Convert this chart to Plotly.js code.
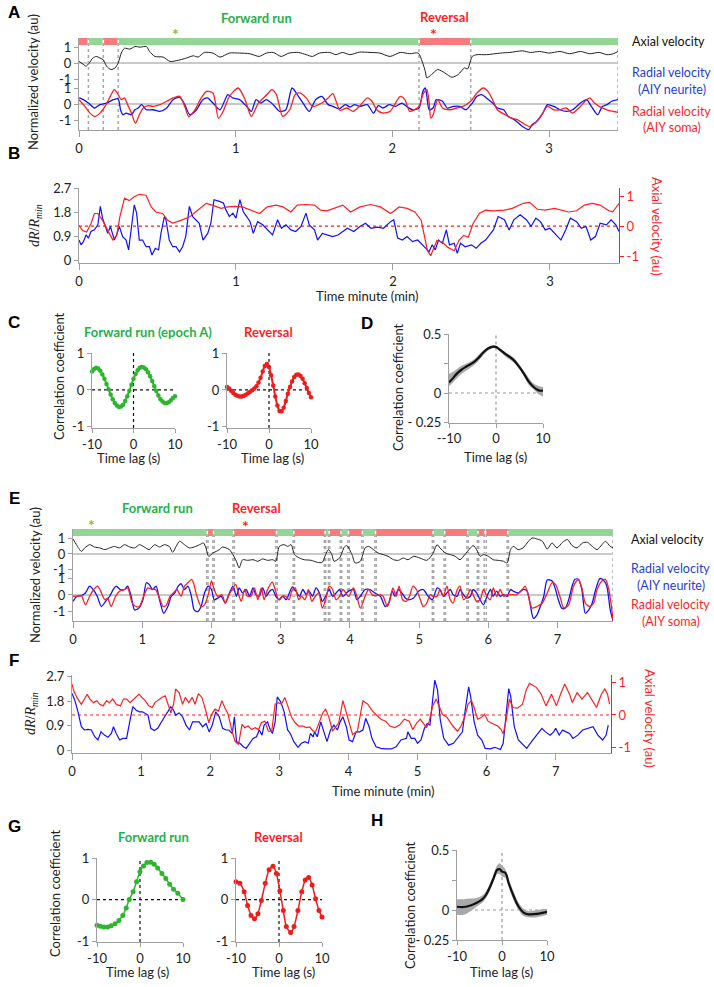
<!DOCTYPE html>
<html>
<head>
<meta charset="utf-8">
<script src="https://cdn.plot.ly/plotly-3.0.1.min.js"></script>
<style>
  body { margin: 0; background: #fff; }
  #chart { width: 714px; height: 987px; }
</style>
</head>
<body>
<div id="chart"></div>
<script>
// ---------- data ----------
// time in minutes, values in au; [time, value]

// Panel A
const aEpochs = [[0, 0.055, 'R'], [0.065, 0.15, 'F'], [0.16, 0.245, 'R'], [0.255, 2.165, 'F'], [2.175, 2.495, 'R'], [2.505, 3.44, 'F']];
const aAxial = [[0,0.1],[0.03,-0.1],[0.045,-0.2],[0.066,0.0],[0.087,0.3],[0.11,0.41],[0.134,0.31],[0.155,0.2],[0.176,-0.2],[0.204,-0.41],[0.23,-0.31],[0.25,0],[0.27,0.62],[0.29,0.92],[0.325,0.87],[0.357,1.03],[0.39,0.99],[0.43,1.03],[0.45,0.72],[0.484,0.41],[0.537,0.37],[0.58,0.1],[0.62,0.14],[0.686,0.31],[0.73,0.45],[0.76,0.37],[0.8,0.66],[0.855,0.62],[0.9,0.37],[0.96,0.62],[1.025,0.62],[1.09,0.58],[1.15,0.41],[1.195,0.62],[1.24,0.66],[1.29,0.41],[1.34,0.62],[1.4,0.66],[1.45,0.52],[1.49,0.41],[1.535,0.62],[1.6,0.66],[1.64,0.52],[1.68,0.66],[1.73,0.52],[1.79,0.68],[1.857,0.66],[1.92,0.62],[1.985,0.41],[2.05,0.66],[2.11,0.58],[2.165,0.62],[2.19,0.1],[2.21,-0.52],[2.22,-0.93],[2.25,-0.72],[2.29,-0.41],[2.335,-0.62],[2.38,-0.89],[2.42,-0.72],[2.46,-0.31],[2.48,-0.37],[2.51,0.41],[2.54,0.52],[2.6,0.52],[2.69,0.62],[2.75,0.66],[2.83,0.76],[2.88,0.66],[2.94,0.72],[3.0,0.62],[3.07,0.72],[3.13,0.58],[3.2,0.72],[3.26,0.58],[3.32,0.66],[3.37,0.52],[3.41,0.58],[3.44,0.72]];
const aNeurite = [[0,0.38],[0.028,0.27],[0.06,0.06],[0.1,-0.25],[0.134,-0.04],[0.176,0.06],[0.22,0.27],[0.25,0.32],[0.265,-0.36],[0.28,-0.67],[0.3,-0.57],[0.335,-0.67],[0.357,-0.36],[0.378,-0.25],[0.4,-0.04],[0.43,-0.36],[0.473,-0.36],[0.516,-0.46],[0.56,-0.25],[0.6,0.27],[0.643,0.42],[0.675,-0.04],[0.707,-0.67],[0.75,-0.36],[0.79,0.27],[0.82,0.38],[0.855,0.06],[0.9,-0.36],[0.95,0.59],[0.98,0.38],[1.025,0.27],[1.07,-0.15],[1.1,-0.46],[1.13,0.27],[1.16,0.06],[1.195,0.27],[1.24,-0.04],[1.28,-0.46],[1.32,-0.36],[1.36,1.0],[1.4,0.48],[1.43,0.06],[1.47,-0.46],[1.51,0.27],[1.55,0.48],[1.59,-0.04],[1.62,-0.15],[1.66,-0.3],[1.7,-0.04],[1.73,-0.19],[1.76,-0.04],[1.79,-0.15],[1.84,-0.04],[1.88,-0.57],[1.91,-0.1],[1.94,-0.25],[1.98,-0.04],[2.02,-0.15],[2.06,0.06],[2.09,-0.15],[2.13,-0.36],[2.17,-0.25],[2.195,0.79],[2.21,1.0],[2.22,0.48],[2.235,-0.36],[2.26,-0.25],[2.28,0.27],[2.32,0.17],[2.35,-0.25],[2.39,-0.15],[2.43,-0.15],[2.47,-0.36],[2.51,0.06],[2.54,0.48],[2.57,0.59],[2.6,0.38],[2.64,0.06],[2.67,-0.25],[2.71,-0.36],[2.74,-0.78],[2.78,-0.99],[2.83,-1.41],[2.87,-1.6],[2.89,-1.31],[2.92,-1.09],[2.96,-0.57],[2.99,-0.04],[3.03,-0.15],[3.07,-0.36],[3.11,-0.46],[3.15,-0.36],[3.2,0.06],[3.24,0.27],[3.27,-0.15],[3.31,-0.67],[3.34,-0.15],[3.37,-0.04],[3.4,0.17],[3.44,0.27]];
const aSoma = [[0,0.27],[0.038,-0.15],[0.07,-0.57],[0.1,-0.78],[0.134,-0.57],[0.166,-0.15],[0.2,0.48],[0.225,0.9],[0.25,0.59],[0.27,0.27],[0.29,0.38],[0.315,-0.15],[0.335,-0.57],[0.36,-1.2],[0.385,-0.67],[0.41,-0.25],[0.44,-0.1],[0.473,-0.15],[0.516,-0.04],[0.56,0.17],[0.6,0.38],[0.643,0.48],[0.675,-0.15],[0.7,-0.78],[0.74,-0.36],[0.78,0.38],[0.815,0.79],[0.855,0.69],[0.89,-0.9],[0.92,-0.46],[0.96,0.48],[1.016,1.0],[1.06,0.27],[1.1,-0.78],[1.145,0.06],[1.2,0.59],[1.23,0.9],[1.26,0.59],[1.3,-0.78],[1.345,-0.36],[1.38,0.59],[1.41,0.69],[1.45,0.38],[1.49,-0.15],[1.55,0.06],[1.59,0.38],[1.62,0.65],[1.666,-0.4],[1.71,-0.25],[1.75,-0.46],[1.79,-0.15],[1.84,0.38],[1.87,0.17],[1.9,-0.36],[1.94,-0.57],[1.985,-0.46],[2.02,0.06],[2.05,0.48],[2.08,0.27],[2.11,-0.46],[2.14,-0.36],[2.17,-0.15],[2.195,0.59],[2.22,0.9],[2.235,0.06],[2.245,-0.88],[2.26,-0.67],[2.29,0.27],[2.32,-0.25],[2.37,-0.36],[2.41,-0.25],[2.45,-0.15],[2.5,0.17],[2.54,0.69],[2.58,1.0],[2.61,0.79],[2.64,0.27],[2.67,-0.36],[2.72,-0.67],[2.76,-0.88],[2.8,-0.99],[2.85,-1.3],[2.88,-1.41],[2.91,-1.2],[2.94,-0.88],[2.99,-0.15],[3.03,-0.36],[3.07,-0.36],[3.11,-0.25],[3.15,-0.57],[3.19,-0.25],[3.23,0.17],[3.26,0.38],[3.29,0.06],[3.32,-0.15],[3.37,-0.36],[3.41,-0.46],[3.44,-0.52]];

// Panel B
const bRatio = [[0,0.75],[0.013,0.57],[0.028,0.69],[0.045,0.94],[0.06,0.82],[0.076,1.07],[0.098,1.13],[0.12,1.32],[0.136,2.01],[0.15,1.57],[0.168,1.26],[0.183,1.0],[0.2,1.26],[0.225,0.75],[0.24,0.94],[0.257,1.26],[0.278,0.88],[0.3,0.75],[0.316,0.38],[0.338,1.38],[0.352,2.07],[0.367,1.76],[0.384,0.75],[0.405,0.75],[0.427,0.5],[0.448,0.5],[0.465,0.19],[0.486,0.44],[0.507,0.38],[0.522,1.0],[0.544,1.63],[0.554,1.51],[0.575,0.75],[0.597,0.5],[0.618,0.5],[0.64,0.31],[0.66,0.5],[0.68,0.88],[0.703,2.01],[0.724,1.63],[0.745,1.51],[0.766,1.38],[0.79,0.75],[0.82,1.0],[0.84,1.38],[0.86,2.26],[0.894,2.2],[0.92,2.14],[0.936,1.88],[0.958,1.63],[0.98,1.76],[1.0,1.57],[1.025,2.26],[1.046,1.82],[1.068,1.63],[1.09,1.44],[1.11,1.0],[1.138,1.44],[1.17,1.32],[1.2,1.13],[1.233,0.94],[1.265,1.51],[1.29,1.19],[1.318,1.32],[1.35,1.13],[1.38,1.07],[1.414,1.26],[1.446,1.76],[1.467,1.32],[1.5,1.13],[1.52,0.75],[1.55,1.0],[1.584,0.94],[1.616,0.88],[1.65,0.94],[1.71,1.19],[1.75,1.07],[1.79,1.26],[1.825,1.38],[1.86,1.19],[1.9,1.23],[1.94,1.19],[1.985,1.44],[2.005,1.51],[2.03,0.82],[2.06,0.75],[2.09,0.88],[2.125,0.69],[2.157,0.75],[2.19,0.57],[2.21,0.44],[2.23,0.31],[2.25,0.57],[2.27,0.38],[2.29,0.75],[2.315,0.63],[2.34,1.13],[2.36,0.57],[2.39,0.63],[2.41,0.25],[2.43,0.63],[2.46,0.5],[2.5,0.57],[2.53,0.44],[2.56,0.63],[2.59,0.75],[2.62,1.0],[2.64,1.13],[2.67,1.63],[2.71,1.51],[2.74,1.13],[2.77,1.51],[2.81,1.7],[2.85,1.51],[2.88,1.26],[2.91,1.57],[2.94,1.44],[2.97,1.13],[3.0,1.19],[3.04,0.94],[3.07,0.75],[3.1,1.13],[3.13,1.57],[3.17,1.44],[3.2,1.19],[3.23,1.26],[3.26,0.75],[3.29,0.88],[3.32,1.38],[3.36,1.32],[3.39,1.51],[3.42,1.32],[3.44,1.07]];
const bAxial = [[0,0.02],[0.023,-0.15],[0.049,-0.2],[0.076,0.08],[0.098,0.42],[0.12,0.42],[0.15,0.19],[0.183,-0.15],[0.215,-0.46],[0.24,-0.31],[0.26,0.3],[0.29,0.93],[0.32,0.85],[0.352,0.98],[0.384,1.06],[0.427,1.03],[0.46,0.64],[0.49,0.47],[0.533,0.42],[0.565,0.19],[0.597,0.1],[0.65,0.19],[0.703,0.3],[0.756,0.53],[0.81,0.76],[0.85,0.7],[0.905,0.59],[0.947,0.64],[0.99,0.66],[1.04,0.64],[1.096,0.53],[1.15,0.42],[1.2,0.64],[1.255,0.7],[1.3,0.64],[1.35,0.47],[1.39,0.7],[1.446,0.72],[1.5,0.7],[1.54,0.53],[1.58,0.51],[1.64,0.64],[1.68,0.7],[1.73,0.47],[1.79,0.64],[1.857,0.72],[1.92,0.64],[1.985,0.42],[2.04,0.64],[2.09,0.59],[2.14,0.47],[2.18,0.19],[2.2,-0.37],[2.22,-0.82],[2.24,-0.99],[2.26,-0.71],[2.28,-0.48],[2.315,-0.54],[2.35,-0.71],[2.39,-0.82],[2.42,-0.48],[2.45,-0.31],[2.48,-0.37],[2.51,0.08],[2.55,0.42],[2.59,0.53],[2.64,0.51],[2.71,0.53],[2.76,0.59],[2.83,0.76],[2.87,0.79],[2.92,0.56],[2.97,0.53],[3.03,0.59],[3.08,0.53],[3.12,0.47],[3.17,0.51],[3.22,0.7],[3.27,0.76],[3.32,0.7],[3.37,0.53],[3.4,0.47],[3.44,0.76]];

// Panel C (lag in s)
const cLag = [-10,-9.5,-9,-8.5,-8,-7.5,-7,-6.5,-6,-5.5,-5,-4.5,-4,-3.5,-3,-2.5,-2,-1.5,-1,-0.5,0,0.5,1,1.5,2,2.5,3,3.5,4,4.5,5,5.5,6,6.5,7,7.5,8,8.5,9,9.5,10];
const cForward = [0.50,0.57,0.60,0.58,0.52,0.42,0.30,0.16,0.02,-0.12,-0.25,-0.35,-0.42,-0.46,-0.45,-0.40,-0.30,-0.17,-0.02,0.14,0.30,0.43,0.53,0.60,0.62,0.61,0.56,0.48,0.37,0.24,0.10,-0.03,-0.15,-0.25,-0.31,-0.35,-0.35,-0.33,-0.28,-0.22,-0.17];
const cReversal = [0.08,0.04,-0.02,-0.08,-0.13,-0.16,-0.18,-0.18,-0.16,-0.13,-0.09,-0.05,-0.01,0.04,0.10,0.20,0.33,0.50,0.65,0.70,0.62,0.40,0.12,-0.18,-0.42,-0.57,-0.58,-0.48,-0.30,-0.10,0.08,0.23,0.35,0.41,0.42,0.38,0.30,0.18,0.05,-0.08,-0.20];

// Panel D (mean and band)
const dLag = [-10,-9.14,-8.43,-7.36,-6.29,-4.86,-3.79,-2.71,-1.64,-0.57,0.14,0.86,2.29,3.71,4.79,5.86,6.93,8.0,9.07,10];
const dMean = [0.09,0.126,0.16,0.197,0.225,0.258,0.295,0.343,0.379,0.393,0.388,0.365,0.323,0.281,0.23,0.169,0.098,0.051,0.022,0.02];
const dUpper = [0.16,0.18,0.2,0.23,0.25,0.28,0.32,0.36,0.39,0.405,0.4,0.38,0.34,0.3,0.25,0.19,0.13,0.08,0.06,0.05];
const dLower = [0.06,0.09,0.12,0.16,0.19,0.23,0.27,0.32,0.36,0.38,0.375,0.35,0.3,0.26,0.21,0.15,0.07,0.03,-0.01,-0.03];

// Panel E
const eEpochs = [[0,1.93,'F'],[1.95,2.02,'R'],[2.04,2.31,'F'],[2.33,2.93,'R'],[2.95,3.18,'F'],[3.2,3.63,'R'],[3.65,3.69,'F'],[3.71,3.86,'R'],[3.88,3.97,'F'],[3.99,4.17,'R'],[4.19,4.36,'F'],[4.38,5.19,'R'],[5.21,5.36,'F'],[5.38,5.69,'R'],[5.71,5.84,'F'],[5.86,5.94,'R'],[5.97,6.27,'R'],[6.29,7.8,'F']];
const eAxial = [[0,0.97],[0.05,0.6],[0.12,0.17],[0.17,0.39],[0.24,0.6],[0.31,0.45],[0.385,0.39],[0.46,0.28],[0.53,0.39],[0.6,0.49],[0.67,0.39],[0.745,0.6],[0.82,0.45],[0.89,0.39],[0.96,0.6],[1.03,0.45],[1.1,0.28],[1.18,0.6],[1.25,0.45],[1.32,0.6],[1.39,0.49],[1.44,0.11],[1.49,0.49],[1.54,0.82],[1.61,0.6],[1.68,0.39],[1.75,0.45],[1.83,0.6],[1.885,0.71],[1.92,0.39],[1.96,-0.15],[2.02,0.06],[2.07,0.17],[2.115,0.28],[2.16,0.45],[2.21,0.39],[2.26,0.28],[2.31,-0.04],[2.36,-0.47],[2.4,-0.9],[2.45,-0.37],[2.52,-0.41],[2.6,-0.37],[2.67,-0.47],[2.74,-0.32],[2.81,-0.41],[2.885,-0.37],[2.93,-0.47],[2.98,0.49],[3.05,0.6],[3.1,0.49],[3.15,0.6],[3.2,-0.04],[3.27,-0.26],[3.34,-0.37],[3.44,-0.41],[3.53,-0.54],[3.6,-0.54],[3.65,-0.04],[3.69,0.28],[3.74,-0.04],[3.77,-0.47],[3.85,-0.26],[3.92,0.45],[3.955,0.54],[4.03,-0.04],[4.075,-0.58],[4.15,-0.47],[4.22,0.39],[4.27,0.49],[4.34,0.28],[4.41,0.06],[4.48,-0.04],[4.55,-0.15],[4.63,-0.37],[4.7,-0.41],[4.77,-0.26],[4.84,-0.37],[4.92,-0.15],[5.01,-0.26],[5.11,-0.41],[5.19,-0.04],[5.26,0.6],[5.3,0.39],[5.38,0.06],[5.45,-0.04],[5.52,-0.15],[5.59,-0.37],[5.66,-0.04],[5.74,0.39],[5.78,0.54],[5.83,0.28],[5.88,-0.15],[5.93,-0.04],[6.0,-0.15],[6.07,-0.37],[6.14,-0.41],[6.22,-0.47],[6.27,-0.58],[6.32,0.28],[6.36,0.49],[6.43,0.28],[6.5,0.39],[6.56,0.71],[6.63,1.03],[6.7,0.97],[6.78,0.82],[6.85,0.32],[6.92,0.71],[6.99,0.39],[7.07,0.75],[7.14,0.93],[7.21,0.54],[7.28,0.39],[7.36,0.71],[7.43,0.75],[7.5,0.49],[7.57,0.28],[7.64,0.6],[7.69,0.82],[7.76,0.49],[7.8,0.39]];
const eNeurite = [[0,-0.39],[0.058,-0.08],[0.12,-0.04],[0.18,0.12],[0.24,0.54],[0.29,0.33],[0.35,-0.08],[0.41,-0.7],[0.47,-0.39],[0.53,-0.08],[0.58,0.33],[0.625,0.54],[0.68,0.33],[0.745,0.33],[0.79,0.54],[0.84,-0.08],[0.89,-0.91],[0.95,-0.8],[1.01,-0.29],[1.06,0.74],[1.1,0.64],[1.15,0.33],[1.2,0.54],[1.25,-0.29],[1.31,-1.11],[1.37,-0.7],[1.42,-0.08],[1.47,0.12],[1.52,0.54],[1.56,0.68],[1.61,0.33],[1.66,0.54],[1.71,-0.08],[1.75,-0.91],[1.8,-1.01],[1.85,-0.7],[1.9,0.12],[1.95,0.54],[2.0,0.33],[2.04,-0.29],[2.09,-0.19],[2.14,-0.08],[2.2,-0.49],[2.26,0.12],[2.31,0.54],[2.36,-0.08],[2.4,0.43],[2.45,0.12],[2.5,0.33],[2.55,-0.08],[2.6,0.43],[2.64,0.02],[2.69,-0.08],[2.74,0.43],[2.79,-0.08],[2.84,0.23],[2.885,0.33],[2.93,-0.08],[2.98,-0.29],[3.03,-0.08],[3.08,-0.29],[3.125,0.12],[3.17,0.49],[3.22,0.23],[3.27,-0.08],[3.32,0.33],[3.37,0.02],[3.41,0.23],[3.46,-0.08],[3.51,0.43],[3.56,0.12],[3.6,-0.39],[3.65,-0.08],[3.7,0.33],[3.75,-0.08],[3.8,0.12],[3.85,0.33],[3.9,-0.08],[3.98,0.23],[4.05,0.33],[4.1,-0.29],[4.15,-0.08],[4.22,0.33],[4.29,0.33],[4.36,0.12],[4.44,-0.08],[4.51,-0.7],[4.56,-0.49],[4.61,0.23],[4.65,-0.08],[4.7,0.33],[4.75,0.12],[4.8,-0.19],[4.84,-0.29],[4.92,-0.19],[4.99,0.23],[5.06,0.33],[5.13,-0.08],[5.19,-0.29],[5.26,0.43],[5.3,0.33],[5.35,-0.08],[5.4,0.12],[5.45,0.33],[5.49,0.02],[5.55,-0.08],[5.59,0.33],[5.64,0.02],[5.69,-0.19],[5.74,-0.08],[5.78,0.33],[5.83,0.12],[5.88,-0.29],[5.93,-0.6],[5.98,-0.08],[6.03,0.33],[6.07,-0.08],[6.12,0.23],[6.17,-0.08],[6.22,0.02],[6.27,-0.08],[6.32,0.33],[6.36,0.23],[6.43,0.12],[6.5,0.33],[6.56,0.23],[6.6,-0.49],[6.65,-1.42],[6.7,-1.22],[6.75,-0.7],[6.8,-0.08],[6.85,0.91],[6.92,0.85],[6.97,0.33],[7.01,-0.29],[7.06,-0.8],[7.11,-0.8],[7.16,-0.29],[7.21,0.54],[7.25,0.95],[7.3,0.95],[7.35,0.33],[7.4,-1.11],[7.45,-0.91],[7.5,-0.49],[7.55,0.33],[7.61,0.99],[7.66,0.91],[7.71,0.54],[7.76,-0.91],[7.8,-1.57]];
const eSoma = [[0,-0.08],[0.058,-0.08],[0.12,-0.04],[0.18,-0.6],[0.24,-0.08],[0.3,0.33],[0.35,0.54],[0.39,0.33],[0.46,-0.29],[0.5,-0.19],[0.55,-0.7],[0.615,-0.08],[0.67,0.23],[0.745,0.33],[0.79,0.43],[0.856,-0.49],[0.91,-0.7],[0.96,-0.7],[1.02,-0.08],[1.08,0.43],[1.14,0.33],[1.19,0.33],[1.24,-0.08],[1.3,-0.7],[1.35,-0.6],[1.4,-0.08],[1.45,0.12],[1.5,0.33],[1.56,-0.08],[1.61,0.54],[1.66,0.74],[1.71,0.95],[1.74,0.74],[1.79,-0.08],[1.85,-0.7],[1.9,-0.6],[1.96,0.12],[2.0,0.85],[2.04,0.33],[2.09,-0.08],[2.15,0.02],[2.2,-0.49],[2.25,0.02],[2.3,0.33],[2.35,0.64],[2.4,-0.08],[2.43,-0.39],[2.48,0.33],[2.52,-0.08],[2.57,-0.08],[2.62,0.43],[2.67,-0.29],[2.72,0.43],[2.76,-0.29],[2.81,0.33],[2.88,0.78],[2.92,0.33],[2.97,-0.29],[3.02,-0.08],[3.07,-0.08],[3.12,-0.29],[3.16,0.23],[3.21,0.43],[3.26,-0.29],[3.3,-0.08],[3.35,-0.29],[3.4,0.33],[3.45,-0.39],[3.5,-0.08],[3.55,0.12],[3.6,-0.8],[3.65,-0.29],[3.7,0.54],[3.75,0.33],[3.8,-0.29],[3.85,-0.08],[3.9,0.33],[3.98,-0.08],[4.05,0.43],[4.1,-0.08],[4.15,-0.8],[4.22,-0.08],[4.27,0.33],[4.32,0.02],[4.36,-0.04],[4.44,0.02],[4.48,-0.08],[4.54,-0.7],[4.58,-0.29],[4.62,0.43],[4.67,-0.08],[4.71,0.54],[4.76,-0.29],[4.81,-0.39],[4.86,-0.08],[4.91,0.54],[4.96,0.33],[5.0,-0.08],[5.06,-0.7],[5.11,-0.49],[5.16,0.02],[5.2,-0.08],[5.26,-0.08],[5.3,0.33],[5.35,-0.08],[5.4,0.54],[5.45,-0.29],[5.49,-0.49],[5.55,0.33],[5.59,0.54],[5.64,-0.29],[5.69,-0.08],[5.74,0.33],[5.78,0.02],[5.83,-0.39],[5.88,-0.29],[5.93,0.33],[5.98,-0.08],[6.03,-0.29],[6.07,0.43],[6.12,-0.08],[6.17,0.33],[6.22,-0.08],[6.27,0.02],[6.32,0.02],[6.41,0.02],[6.49,0.33],[6.53,0.54],[6.58,-0.08],[6.63,-0.8],[6.7,-0.7],[6.78,-0.49],[6.85,0.12],[6.92,0.74],[6.97,0.64],[7.04,-0.19],[7.09,-0.8],[7.16,-0.6],[7.23,0.54],[7.3,0.95],[7.35,0.43],[7.4,-0.49],[7.46,-0.7],[7.52,-0.49],[7.57,0.33],[7.64,0.85],[7.69,0.95],[7.74,0.33],[7.8,-1.53]];

// Panel F
const fRatio = [[0,2.09],[0.04,1.84],[0.087,1.41],[0.135,0.86],[0.18,0.74],[0.23,0.76],[0.28,0.74],[0.33,0.49],[0.375,0.37],[0.42,0.67],[0.47,0.55],[0.52,0.47],[0.57,0.61],[0.6,0.86],[0.64,0.61],[0.69,0.37],[0.735,0.43],[0.79,0.43],[0.84,1.1],[0.88,1.6],[0.93,1.47],[0.975,1.41],[1.02,1.41],[1.1,1.29],[1.14,0.8],[1.19,0.72],[1.24,0.8],[1.29,1.04],[1.34,1.23],[1.385,1.41],[1.43,1.6],[1.47,1.47],[1.5,1.29],[1.55,1.37],[1.6,1.23],[1.65,0.92],[1.7,0.74],[1.745,1.04],[1.79,1.04],[1.84,1.04],[1.89,0.86],[1.94,0.98],[1.985,0.67],[2.03,0.92],[2.08,1.41],[2.13,1.23],[2.18,0.8],[2.23,0.74],[2.27,0.74],[2.32,0.61],[2.35,1.23],[2.38,0.31],[2.43,0.25],[2.48,0.12],[2.52,0.06],[2.57,0.25],[2.62,0.43],[2.67,0.49],[2.71,0.74],[2.75,0.55],[2.78,0.92],[2.83,1.04],[2.86,0.8],[2.9,0.61],[2.94,1.04],[2.97,1.96],[3.02,1.78],[3.07,1.41],[3.12,0.74],[3.16,0.61],[3.21,0.31],[3.27,0.1],[3.32,0.25],[3.37,0.31],[3.42,0.25],[3.45,0.61],[3.49,0.49],[3.51,0.67],[3.55,0.49],[3.6,1.04],[3.64,0.74],[3.69,0.31],[3.74,0.74],[3.79,0.92],[3.84,0.74],[3.88,1.04],[3.92,1.23],[3.97,0.86],[4.01,0.37],[4.06,0.31],[4.11,0.67],[4.16,0.67],[4.21,0.74],[4.25,1.17],[4.3,0.86],[4.34,0.43],[4.4,0.12],[4.47,0.06],[4.54,0.04],[4.62,0.04],[4.69,0.12],[4.76,0.37],[4.84,0.43],[4.86,0.67],[4.91,0.43],[4.96,0.43],[5.0,0.25],[5.05,0.37],[5.1,0.8],[5.14,0.98],[5.18,0.92],[5.21,1.72],[5.25,2.58],[5.29,2.21],[5.33,1.1],[5.38,0.43],[5.45,0.18],[5.52,0.25],[5.59,0.49],[5.65,0.67],[5.69,1.47],[5.74,2.33],[5.77,1.96],[5.82,1.04],[5.87,0.55],[5.93,0.37],[5.98,0.06],[6.05,0.04],[6.12,0.1],[6.2,0.02],[6.24,0.25],[6.28,1.23],[6.32,2.27],[6.35,1.96],[6.4,0.86],[6.46,0.37],[6.53,0.18],[6.58,0.06],[6.65,0.31],[6.72,0.55],[6.8,0.8],[6.85,0.67],[6.92,0.55],[6.97,0.67],[7.0,0.8],[7.05,0.55],[7.1,0.74],[7.15,0.67],[7.2,0.61],[7.25,0.43],[7.32,0.55],[7.39,0.74],[7.46,0.8],[7.54,0.86],[7.61,0.55],[7.68,0.37],[7.73,0.55],[7.76,0.92]];
const fAxial = [[0,0.95],[0.024,0.75],[0.07,0.54],[0.135,0.33],[0.18,0.49],[0.22,0.64],[0.26,0.49],[0.31,0.38],[0.36,0.44],[0.4,0.33],[0.45,0.28],[0.5,0.44],[0.54,0.38],[0.59,0.49],[0.64,0.33],[0.7,0.28],[0.745,0.49],[0.79,0.49],[0.84,0.38],[0.9,0.49],[0.97,0.64],[1.01,0.54],[1.06,0.44],[1.11,0.28],[1.16,0.23],[1.2,0.38],[1.25,0.46],[1.3,0.54],[1.35,0.59],[1.4,0.28],[1.43,0.07],[1.47,0.33],[1.5,0.8],[1.55,0.69],[1.6,0.33],[1.64,0.54],[1.69,0.38],[1.74,0.54],[1.78,0.33],[1.83,0.66],[1.88,0.54],[1.93,0.18],[1.98,-0.24],[2.02,0.02],[2.07,0.18],[2.12,0.12],[2.17,0.44],[2.21,0.23],[2.26,0.02],[2.31,-0.45],[2.36,-0.81],[2.41,-0.91],[2.46,-0.29],[2.5,-0.39],[2.55,-0.34],[2.6,-0.45],[2.65,-0.39],[2.7,-0.45],[2.74,-0.24],[2.79,-0.19],[2.84,-0.5],[2.89,-0.5],[2.94,0.33],[2.99,0.38],[3.03,0.33],[3.08,0.54],[3.13,0.23],[3.18,-0.08],[3.23,-0.24],[3.28,-0.34],[3.34,-0.34],[3.39,-0.39],[3.44,-0.37],[3.49,-0.5],[3.53,-0.5],[3.58,-0.24],[3.63,0.07],[3.67,0.18],[3.72,-0.08],[3.77,-0.5],[3.81,-0.39],[3.86,-0.24],[3.92,0.44],[3.99,-0.08],[4.06,-0.6],[4.13,-0.5],[4.21,0.44],[4.28,0.33],[4.35,0.12],[4.42,-0.03],[4.47,-0.13],[4.54,-0.19],[4.6,-0.34],[4.67,-0.39],[4.74,-0.31],[4.81,-0.13],[4.88,-0.19],[4.93,-0.45],[4.99,-0.24],[5.04,-0.13],[5.08,-0.24],[5.13,-0.39],[5.17,-0.19],[5.22,0.28],[5.27,0.49],[5.32,0.23],[5.36,0.02],[5.43,-0.08],[5.51,-0.34],[5.58,-0.5],[5.63,-0.34],[5.68,-0.08],[5.73,0.33],[5.78,0.44],[5.82,0.23],[5.87,-0.13],[5.92,-0.08],[5.97,0.02],[6.02,-0.19],[6.06,-0.24],[6.11,-0.29],[6.16,-0.34],[6.21,-0.45],[6.24,-0.58],[6.28,-0.19],[6.33,0.49],[6.38,0.23],[6.45,0.21],[6.52,0.33],[6.57,0.75],[6.62,0.97],[6.67,0.9],[6.72,0.85],[6.79,0.64],[6.86,0.28],[6.94,0.64],[7.01,0.28],[7.07,0.64],[7.13,0.95],[7.2,0.64],[7.24,0.38],[7.31,0.69],[7.38,0.49],[7.46,0.69],[7.53,0.44],[7.59,0.23],[7.66,0.64],[7.71,0.8],[7.75,0.64],[7.78,0.33]];

// Panel G
const gForwardLag = [-10,-9.2,-8.4,-7.5,-6.7,-5.8,-4.9,-4.0,-3.2,-2.5,-1.6,-0.8,0,0.8,1.6,2.5,3.3,4.1,5.1,6.0,6.9,7.8,8.8,10];
const gForward = [-0.62,-0.64,-0.66,-0.66,-0.63,-0.58,-0.5,-0.38,-0.2,0.0,0.19,0.43,0.67,0.81,0.89,0.9,0.85,0.76,0.63,0.51,0.37,0.25,0.15,0.0];
const gReversalLag = [-10,-9.1,-8.1,-7.3,-6.5,-5.7,-4.9,-4.1,-3.2,-2.3,-1.4,-0.6,0.2,1.0,1.7,2.7,3.5,4.4,5.3,6.1,6.9,7.7,8.5,9.3,10];
const gReversal = [0.43,0.39,0.19,-0.14,-0.38,-0.46,-0.34,-0.02,0.39,0.72,0.8,0.63,0.21,-0.26,-0.65,-0.79,-0.65,-0.26,0.19,0.47,0.53,0.35,0.02,-0.26,-0.42];

// Panel H
const hLag = [-10,-8.5,-7,-5.6,-4.4,-3.5,-2.6,-1.85,-1.1,-0.5,0,0.74,1.48,2.6,3.7,4.8,5.9,7.8,10];
const hMean = [0.027,0.025,0.038,0.06,0.088,0.129,0.198,0.266,0.335,0.34,0.32,0.31,0.225,0.115,0.027,-0.022,-0.036,-0.033,-0.016];
const hUpper = [0.09,0.09,0.095,0.1,0.12,0.16,0.23,0.3,0.37,0.39,0.37,0.34,0.26,0.15,0.06,0.01,-0.01,0.0,0.01];
const hLower = [-0.04,-0.04,-0.01,0.03,0.06,0.1,0.17,0.24,0.3,0.3,0.28,0.27,0.19,0.08,0.0,-0.05,-0.06,-0.06,-0.04];

// ---------- helpers ----------
const W = 714, H = 987;
const FONT = 'Lato, "Open Sans", sans-serif';
const GREEN = '#1fb24a', RED = '#ff1f1f', BLUE = '#1010ff';
const BAR_G = '#92d595', BAR_R = '#f77b7b';
const dx = (a, b) => [a / W, b / W];
const dy = (top, bot) => [1 - bot / H, 1 - top / H];
const PY = y => 1 - y / H;

function ann(text, x, y, size, color, extra) {
  return Object.assign({
    text: text, x: x / W, y: PY(y), xref: 'paper', yref: 'paper', showarrow: false,
    xanchor: 'center', yanchor: 'middle', font: { family: FONT, size: size, color: color }
  }, extra || {});
}
function panel(letter, x, y) {
  return ann('<b>' + letter + '</b>', x, y, 17, '#000', { font: { family: '"Liberation Sans", Arial, sans-serif', size: 17, color: '#000' } });
}
function series(pairs, xa, ya, color, width, smooth) {
  return {
    type: 'scatter', mode: 'lines', x: pairs.map(p => p[0]), y: pairs.map(p => p[1]),
    xaxis: xa, yaxis: ya, hoverinfo: 'skip',
    line: smooth ? { color: color, width: width, shape: 'spline', smoothing: 0.7 } : { color: color, width: width }
  };
}
function dots(x, y, xa, ya, color, size, width) {
  return {
    type: 'scatter', mode: 'lines+markers', x: x, y: y, xaxis: xa, yaxis: ya, hoverinfo: 'skip', cliponaxis: false,
    line: { color: color, width: width, shape: 'spline', smoothing: 0.6 }, marker: { color: color, size: size }
  };
}
function band(x, lo, hi, mean, xa, ya) {
  return [
    { type: 'scatter', mode: 'lines', x: x, y: lo, xaxis: xa, yaxis: ya, line: { width: 0, shape: 'spline' }, hoverinfo: 'skip' },
    { type: 'scatter', mode: 'lines', x: x, y: hi, xaxis: xa, yaxis: ya, fill: 'tonexty', fillcolor: '#a9a9a9', line: { width: 0, shape: 'spline' }, hoverinfo: 'skip' },
    { type: 'scatter', mode: 'lines', x: x, y: mean, xaxis: xa, yaxis: ya, line: { color: '#111', width: 2.2, shape: 'spline' }, hoverinfo: 'skip' }
  ];
}
// status bar and dotted epoch boundaries; single=true puts one line in each gap
function epochShapes(epochs, xref, barTop, barBot, axisBot, single) {
  const out = [];
  const vline = b => out.push({ type: 'line', xref: xref, yref: 'paper', x0: b, x1: b, y0: PY(axisBot), y1: PY(barTop),
    line: { color: '#a8a8a8', width: 1.5, dash: 'dot' }, layer: 'below' });
  epochs.forEach((e, i) => {
    out.push({ type: 'rect', xref: xref, yref: 'paper', x0: e[0], x1: e[1], y0: PY(barBot), y1: PY(barTop),
      fillcolor: e[2] === 'F' ? BAR_G : BAR_R, line: { width: 0 }, layer: 'above' });
    if (single) {
      const next = epochs[i + 1];
      vline(next ? (e[1] + next[0]) / 2 : e[1]);
    } else {
      if (i > 0) vline(e[0]);
      vline(e[1]);
    }
  });
  return out;
}
function cross(xa, ya, color) {
  const st = { color: color, width: 1.2, dash: 'dot' };
  return [
    { type: 'line', xref: xa, yref: ya + ' domain', x0: 0, x1: 0, y0: 0, y1: 1, line: st, layer: 'below' },
    { type: 'line', xref: xa + ' domain', yref: ya, x0: 0, x1: 1, y0: 0, y1: 0, line: st, layer: 'below' }
  ];
}
const base = {
  showgrid: false, zeroline: false, showline: true, linecolor: '#a0a0a0', linewidth: 1,
  ticks: 'outside', ticklen: 4, tickcolor: '#a0a0a0', fixedrange: true,
  tickfont: { family: FONT, size: 13, color: '#222' }
};
const ax = o => Object.assign({}, base, o);
const zl = { zeroline: true, zerolinecolor: '#c9c9c9', zerolinewidth: 1.5 };
const pm1 = { tickvals: [-1, 0, 1], ticktext: ['-1', '0', '1'] };
const ratioTicks = { tickvals: [0, 0.9, 1.8, 2.7], ticktext: ['0', '0.9', '1.8', '2.7'] };
const redAxis = { side: 'right', linecolor: RED, tickcolor: RED, tickfont: { family: FONT, size: 13, color: RED } };
const lagTicks = { tickvals: [-10, 0, 10], ticktext: ['-10', '0', '10'] };
const quarterTicks = {
  tickvals: [-0.25, 0, 0.5], ticktext: ['- 0.25', '0', '0.5'],
  minor: { tickvals: [0.25], ticks: 'outside', ticklen: 4, tickcolor: '#a0a0a0', showgrid: false }
};

// ---------- traces ----------
const traces = [
  series(aAxial, 'x', 'y', '#222', 1, true),
  series(aNeurite, 'x', 'y2', BLUE, 1.3, true),
  series(aSoma, 'x', 'y2', RED, 1.3, true),
  series(bAxial, 'x2', 'y4', RED, 1.2, false),
  series(bRatio, 'x2', 'y3', BLUE, 1.2, false),
  dots(cLag, cForward, 'x3', 'y5', '#2db52d', 4.5, 2),
  dots(cLag, cReversal, 'x4', 'y6', '#f01c1c', 4.5, 2),
  ...band(dLag, dLower, dUpper, dMean, 'x5', 'y7'),
  series(eAxial, 'x6', 'y8', '#222', 1, true),
  series(eNeurite, 'x6', 'y9', BLUE, 1.3, true),
  series(eSoma, 'x6', 'y9', RED, 1.3, true),
  series(fAxial, 'x7', 'y11', RED, 1.2, false),
  series(fRatio, 'x7', 'y10', BLUE, 1.2, false),
  dots(gForwardLag, gForward, 'x8', 'y12', '#2db52d', 5, 1.5),
  dots(gReversalLag, gReversal, 'x9', 'y13', '#f01c1c', 5, 1.5),
  ...band(hLag, hLower, hUpper, hMean, 'x10', 'y14')
];
traces.forEach(t => t.showlegend = false);

// ---------- layout ----------
const layout = {
  width: W, height: H, margin: { l: 0, r: 0, t: 0, b: 0 },
  paper_bgcolor: '#fff', plot_bgcolor: 'rgba(0,0,0,0)', showlegend: false,
  font: { family: FONT },
  // A
  xaxis: ax({ domain: dx(79, 618), range: [0, 3.44], anchor: 'y2', tickvals: [0, 1, 2, 3], ticklen: 6 }),
  yaxis: ax(Object.assign({ domain: dy(38, 84), range: [-1.3125, 1.5625], anchor: 'x' }, pm1, zl)),
  yaxis2: ax(Object.assign({ domain: dy(84, 130), range: [-1.625, 1.25], anchor: 'x' }, pm1, zl)),
  // B
  xaxis2: ax({ domain: dx(79, 619), range: [0, 3.44], anchor: 'y3', tickvals: [0, 1, 2, 3], ticklen: 6 }),
  yaxis3: ax(Object.assign({ domain: dy(188, 263), range: [-0.11, 2.7], anchor: 'x2' }, ratioTicks)),
  yaxis4: ax(Object.assign({}, redAxis, pm1, { overlaying: 'y3', anchor: 'x2', range: [-1.23, 1.27] })),
  // C
  xaxis3: ax(Object.assign({ domain: dx(92, 175), range: [-10, 10], anchor: 'y5' }, lagTicks)),
  yaxis5: ax(Object.assign({ domain: dy(353, 428), range: [-1.03, 1], anchor: 'x3' }, pm1)),
  xaxis4: ax(Object.assign({ domain: dx(227, 311), range: [-10, 10], anchor: 'y6' }, lagTicks)),
  yaxis6: ax(Object.assign({ domain: dy(353, 428), range: [-1.03, 1], anchor: 'x4' }, pm1)),
  // D
  xaxis5: ax({ domain: dx(449, 543), range: [-10, 10], anchor: 'y7', tickvals: [-10, 0, 10], ticktext: ['--10', '0', '10'] }),
  yaxis7: ax(Object.assign({ domain: dy(334, 422.5), range: [-0.25, 0.5], anchor: 'x5' }, quarterTicks)),
  // E
  xaxis6: ax({ domain: dx(73, 613), range: [0, 7.8], anchor: 'y9', tickvals: [0, 1, 2, 3, 4, 5, 6, 7], ticklen: 6 }),
  yaxis8: ax(Object.assign({ domain: dy(529, 575), range: [-1.355, 1.61], anchor: 'x6' }, pm1, zl)),
  yaxis9: ax(Object.assign({ domain: dy(575, 621), range: [-1.58, 1.21], anchor: 'x6' }, pm1, zl)),
  // F
  xaxis7: ax({ domain: dx(72, 611), range: [0, 7.8], anchor: 'y10', tickvals: [0, 1, 2, 3, 4, 5, 6, 7], ticklen: 6 }),
  yaxis10: ax(Object.assign({ domain: dy(675, 753), range: [-0.11, 2.77], anchor: 'x7' }, ratioTicks)),
  yaxis11: ax(Object.assign({}, redAxis, pm1, { overlaying: 'y10', anchor: 'x7', range: [-1.17, 1.23] })),
  // G
  xaxis8: ax(Object.assign({ domain: dx(97, 183), range: [-10, 10], anchor: 'y12' }, lagTicks)),
  yaxis12: ax(Object.assign({ domain: dy(858, 942), range: [-1.02, 1], anchor: 'x8' }, pm1)),
  xaxis9: ax(Object.assign({ domain: dx(236, 322), range: [-10, 10], anchor: 'y13' }, lagTicks)),
  yaxis13: ax(Object.assign({ domain: dy(858, 942), range: [-1.02, 1], anchor: 'x9' }, pm1)),
  // H
  xaxis10: ax(Object.assign({ domain: dx(457, 547), range: [-10, 10], anchor: 'y14' }, lagTicks)),
  yaxis14: ax(Object.assign({ domain: dy(850, 940), range: [-0.25, 0.5], anchor: 'x10' }, quarterTicks)),

  shapes: [
    ...epochShapes(aEpochs, 'x', 38, 45, 130, true),
    ...epochShapes(eEpochs, 'x6', 529, 536, 621, false),
    { type: 'line', xref: 'x2 domain', yref: 'y4', x0: 0, x1: 1, y0: 0, y1: 0, line: { color: RED, width: 1.2, dash: 'dot' }, layer: 'below' },
    { type: 'line', xref: 'x7 domain', yref: 'y11', x0: 0, x1: 1, y0: 0, y1: 0, line: { color: RED, width: 1.2, dash: 'dot' }, layer: 'below' },
    ...cross('x3', 'y5', '#111'),
    ...cross('x4', 'y6', '#111'),
    ...cross('x5', 'y7', '#999'),
    ...cross('x8', 'y12', '#111'),
    ...cross('x9', 'y13', '#111'),
    ...cross('x10', 'y14', '#999')
  ],

  annotations: [
    panel('A', 14, 13), panel('B', 14, 153), panel('C', 14, 322), panel('D', 367, 323),
    panel('E', 14, 498), panel('F', 14, 660), panel('G', 14, 826), panel('H', 377, 820),
    // A
    ann('<b>Forward run</b>', 256, 18, 13, GREEN),
    ann('<b>*</b>', 175, 34, 16, '#7dc242'),
    ann('<b>Reversal</b>', 444, 17, 13, RED),
    ann('<b>*</b>', 434, 34, 16, RED),
    ann('Axial velocity', 668, 42, 12.5, '#111'),
    ann('Radial velocity', 671, 73, 12.5, '#1f3fcf'),
    ann('(AIY neurite)', 672, 89, 12.5, '#1f3fcf'),
    ann('Radial velocity', 671, 112, 12.5, RED),
    ann('(AIY soma)', 672, 128, 12.5, RED),
    ann('Normalized velocity (au)', 33, 82, 13, '#222', { textangle: -90 }),
    // B
    ann('<i>dR</i>/<i>R</i><sub><i>min</i></sub>', 35, 226, 14, '#222', { textangle: -90, font: { family: '"Liberation Serif", serif', size: 14, color: '#222' } }),
    ann('Time minute (min)', 367, 296, 13, '#222'),
    ann('Axial velocity (au)', 657, 226, 13, RED, { textangle: 90 }),
    // C
    ann('<b>Forward run (epoch A)</b>', 148, 332, 13, GREEN),
    ann('<b>Reversal</b>', 268, 332, 13, RED),
    ann('Correlation coefficient', 59, 376, 13, '#222', { textangle: -90 }),
    ann('Time lag (s)', 128, 458, 13, '#222'),
    ann('Time lag (s)', 272, 458, 13, '#222'),
    // D
    ann('Correlation coefficient', 398, 387, 13, '#222', { textangle: -90 }),
    ann('Time lag (s)', 495, 457, 13, '#222'),
    // E
    ann('<b>Forward run</b>', 157, 508, 13, GREEN),
    ann('<b>*</b>', 92, 524, 16, '#7dc242'),
    ann('<b>Reversal</b>', 256, 508, 13, RED),
    ann('<b>*</b>', 245, 525, 16, RED),
    ann('Axial velocity', 667, 539, 12.5, '#111'),
    ann('Radial velocity', 670, 568, 12.5, '#1f3fcf'),
    ann('(AIY neurite)', 671, 585, 12.5, '#1f3fcf'),
    ann('Radial velocity', 670, 604, 12.5, RED),
    ann('(AIY soma)', 671, 621, 12.5, RED),
    ann('Normalized velocity (au)', 35, 575, 13, '#222', { textangle: -90 }),
    // F
    ann('<i>dR</i>/<i>R</i><sub><i>min</i></sub>', 31, 714, 14, '#222', { textangle: -90, font: { family: '"Liberation Serif", serif', size: 14, color: '#222' } }),
    ann('Time minute (min)', 383, 791, 13, '#222'),
    ann('Axial velocity (au)', 650, 718, 13, RED, { textangle: 90 }),
    // G
    ann('<b>Forward run</b>', 153, 837, 13, GREEN),
    ann('<b>Reversal</b>', 278, 837, 13, RED),
    ann('Correlation coefficient', 55, 893, 13, '#222', { textangle: -90 }),
    ann('Time lag (s)', 137, 972, 13, '#222'),
    ann('Time lag (s)', 283, 972, 13, '#222'),
    // H
    ann('Correlation coefficient', 410, 905, 13, '#222', { textangle: -90 }),
    ann('Time lag (s)', 502, 972, 13, '#222')
  ]
};

Plotly.newPlot('chart', traces, layout, { staticPlot: true, displayModeBar: false });
</script>
</body>
</html>
